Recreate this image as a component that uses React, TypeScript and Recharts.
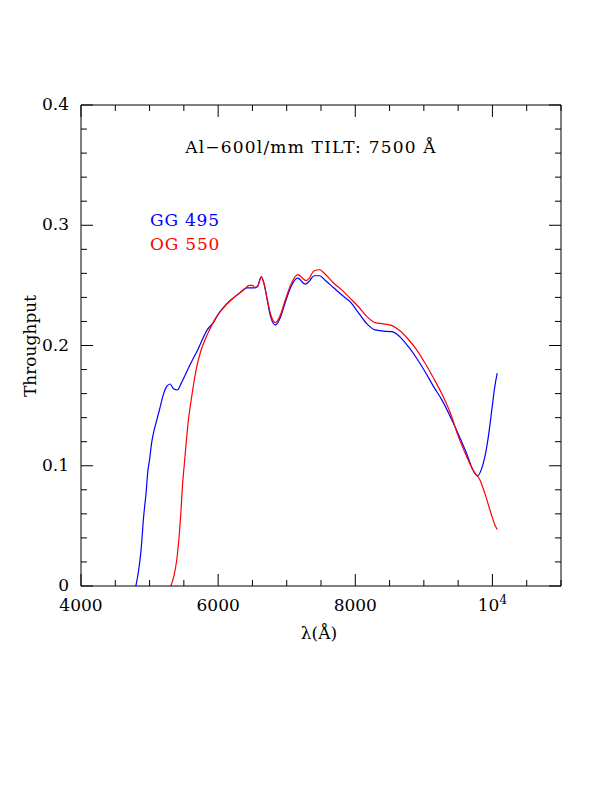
import React from "react";
import { LineChart, Line, XAxis, YAxis } from "recharts";

const gg495Wavelength = [
  4800, 4835, 4865, 4885, 4905, 4928, 4950, 4972, 5000, 5030, 5068, 5105, 5155, 5205, 5250, 5300,
  5350, 5405, 5465, 5540, 5625, 5700, 5770, 5840, 5930, 6000, 6085, 6190, 6300, 6420, 6520, 6570,
  6630, 6675, 6715, 6765, 6835, 6905, 6980, 7055, 7160, 7270, 7336, 7400, 7480, 7565, 7685, 7805,
  7930, 8050, 8170, 8290, 8410, 8535, 8655, 8775, 8900, 9020, 9140, 9260, 9385, 9505, 9625, 9720,
  9785, 9845, 9890, 9940, 9990, 10035, 10070,
];
const gg495Throughput = [
  0, 0.011, 0.024, 0.036, 0.052, 0.066, 0.078, 0.094, 0.105, 0.119, 0.13, 0.138, 0.149, 0.16, 0.166, 0.168,
  0.164, 0.163, 0.169, 0.178, 0.188, 0.196, 0.205, 0.213, 0.219, 0.226, 0.232, 0.238, 0.243, 0.248, 0.248, 0.249,
  0.257, 0.25, 0.238, 0.224, 0.217, 0.223, 0.236, 0.248, 0.256, 0.251, 0.254, 0.258, 0.258, 0.254, 0.248, 0.242,
  0.236, 0.227, 0.218, 0.213, 0.212, 0.2115, 0.207, 0.199, 0.189, 0.178, 0.166, 0.155, 0.141, 0.126, 0.11, 0.096,
  0.0915, 0.098, 0.1075, 0.124, 0.146, 0.166, 0.177,
];

const og550Wavelength = [
  5310, 5358, 5397, 5426, 5455, 5479, 5503, 5537, 5566, 5600, 5640, 5687, 5745, 5818, 5900, 5990,
  6085, 6190, 6300, 6390, 6450, 6500, 6540, 6575, 6630, 6675, 6715, 6765, 6835, 6905, 6980, 7055,
  7160, 7285, 7330, 7395, 7480, 7565, 7685, 7805, 7930, 8050, 8170, 8290, 8410, 8535, 8655, 8775,
  8900, 9020, 9140, 9260, 9385, 9505, 9625, 9720, 9820, 9890, 9965, 10035, 10070,
];
const og550Throughput = [
  0, 0.009, 0.022, 0.038, 0.06, 0.083, 0.099, 0.121, 0.138, 0.152, 0.167, 0.182, 0.195, 0.206, 0.216, 0.225,
  0.232, 0.238, 0.243, 0.247, 0.25, 0.25, 0.248, 0.249, 0.257, 0.25, 0.239, 0.226, 0.219, 0.225, 0.238, 0.25,
  0.259, 0.254, 0.256, 0.262, 0.263, 0.259, 0.252, 0.246, 0.239, 0.232, 0.224, 0.219, 0.218, 0.2165, 0.212, 0.205,
  0.196, 0.185, 0.173, 0.16, 0.144, 0.124, 0.1075, 0.096, 0.088, 0.077, 0.063, 0.051, 0.047,
];

const xTicks = [4000, 4500, 5000, 5500, 6000, 6500, 7000, 7500, 8000, 8500, 9000, 9500, 10000, 10500, 11000];
const xMajorLabels: Record<number, string> = { 4000: "4000", 6000: "6000", 8000: "8000", 10000: "10" };
const yTicks = [0, 0.02, 0.04, 0.06, 0.08, 0.1, 0.12, 0.14, 0.16, 0.18, 0.2, 0.22, 0.24, 0.26, 0.28, 0.3, 0.32, 0.34, 0.36, 0.38, 0.4];
const yMajorLabels = ["0", "0.1", "0.2", "0.3", "0.4"];

const titleText = "Al\u2212600l/mm TILT: 7500 \u00C5";
const seriesNames = ["GG 495", "OG 550"];
const seriesColors = ["#0000ff", "#ff0000"];

const gg495Data = gg495Wavelength.map((x, i) => ({ x, y: gg495Throughput[i] }));
const og550Data = og550Wavelength.map((x, i) => ({ x, y: og550Throughput[i] }));

const FONT = "'DejaVu Serif', serif";
const MINOR = 6;
const MAJOR = 12;

const isXMajor = (v: number) => v % 2000 === 0 && v <= 10000;
const isYMajor = (v: number) => Math.round(v * 100) % 10 === 0;

const BottomTick = (props: any) => {
  const { x, y, payload } = props;
  const v = payload.value;
  const major = isXMajor(v);
  return (
    <g>
      <line x1={x} y1={y} x2={x} y2={y - (major ? MAJOR : MINOR)} stroke="#000" strokeWidth={1} />
      {major && (
        <text x={x} y={y + 25} textAnchor="middle" fontFamily={FONT} fontSize={17} fill="#000">
          {xMajorLabels[v]}
          {v === 10000 && (
            <tspan fontSize={12} dy={-7}>
              4
            </tspan>
          )}
        </text>
      )}
    </g>
  );
};

const TopTick = (props: any) => {
  const { x, y, payload } = props;
  const major = isXMajor(payload.value);
  return <line x1={x} y1={y} x2={x} y2={y + (major ? MAJOR : MINOR)} stroke="#000" strokeWidth={1} />;
};

const LeftTick = (props: any) => {
  const { x, y, payload } = props;
  const v = payload.value;
  const major = isYMajor(v);
  return (
    <g>
      <line x1={x} y1={y} x2={x + (major ? MAJOR : MINOR)} y2={y} stroke="#000" strokeWidth={1} />
      {major && (
        <text x={x - 12} y={y + 5} textAnchor="end" fontFamily={FONT} fontSize={17} fill="#000">
          {yMajorLabels[Math.round(v * 10)]}
        </text>
      )}
    </g>
  );
};

const RightTick = (props: any) => {
  const { x, y, payload } = props;
  const major = isYMajor(payload.value);
  return <line x1={x} y1={y} x2={x - (major ? MAJOR : MINOR)} y2={y} stroke="#000" strokeWidth={1} />;
};

export default function App() {
  return (
    <div style={{ width: 596, height: 700 }}>
      <LineChart width={596} height={700} margin={{ top: 0, right: 0, bottom: 0, left: 0 }}>
        <XAxis
          xAxisId="bottom"
          orientation="bottom"
          type="number"
          dataKey="x"
          domain={[4000, 11000]}
          ticks={xTicks}
          interval={0}
          height={122}
          tickSize={0}
          tickMargin={0}
          tickLine={false}
          axisLine={{ stroke: "#000", strokeWidth: 1 }}
          tick={<BottomTick />}
          allowDataOverflow
        />
        <XAxis
          xAxisId="top"
          orientation="top"
          type="number"
          dataKey="x"
          domain={[4000, 11000]}
          ticks={xTicks}
          interval={0}
          height={97}
          tickSize={0}
          tickMargin={0}
          tickLine={false}
          axisLine={{ stroke: "#000", strokeWidth: 1 }}
          tick={<TopTick />}
          allowDataOverflow
        />
        <YAxis
          yAxisId="left"
          orientation="left"
          type="number"
          domain={[0, 0.4]}
          ticks={yTicks}
          interval={0}
          width={73}
          tickSize={0}
          tickMargin={0}
          tickLine={false}
          axisLine={{ stroke: "#000", strokeWidth: 1 }}
          tick={<LeftTick />}
          allowDataOverflow
        />
        <YAxis
          yAxisId="right"
          orientation="right"
          type="number"
          domain={[0, 0.4]}
          ticks={yTicks}
          interval={0}
          width={43}
          tickSize={0}
          tickMargin={0}
          tickLine={false}
          axisLine={{ stroke: "#000", strokeWidth: 1 }}
          tick={<RightTick />}
          allowDataOverflow
        />
        <Line
          xAxisId="bottom"
          yAxisId="left"
          data={gg495Data}
          dataKey="y"
          type="monotone"
          stroke={seriesColors[0]}
          strokeWidth={1.2}
          dot={false}
          activeDot={false}
          isAnimationActive={false}
        />
        <Line
          xAxisId="bottom"
          yAxisId="left"
          data={og550Data}
          dataKey="y"
          type="monotone"
          stroke={seriesColors[1]}
          strokeWidth={1.2}
          dot={false}
          activeDot={false}
          isAnimationActive={false}
        />
        <text x={303} y={145} textAnchor="middle" fontFamily={FONT} fontSize={17} letterSpacing={1.2} fill="#000">
          {titleText}
        </text>
        <text x={142} y={218} fontFamily={FONT} fontSize={17} letterSpacing={0.8} fill={seriesColors[0]}>
          {seriesNames[0]}
        </text>
        <text x={142} y={242} fontFamily={FONT} fontSize={17} letterSpacing={0.8} fill={seriesColors[1]}>
          {seriesNames[1]}
        </text>
        <text x={311} y={631} textAnchor="middle" fontFamily={FONT} fontSize={17} fill="#000">
          {"\u03BB(\u00C5)"}
        </text>
        <text
          x={28}
          y={338}
          textAnchor="middle"
          fontFamily={FONT}
          fontSize={17}
          fill="#000"
          transform="rotate(-90 28 338)"
        >
          Throughput
        </text>
      </LineChart>
    </div>
  );
}
